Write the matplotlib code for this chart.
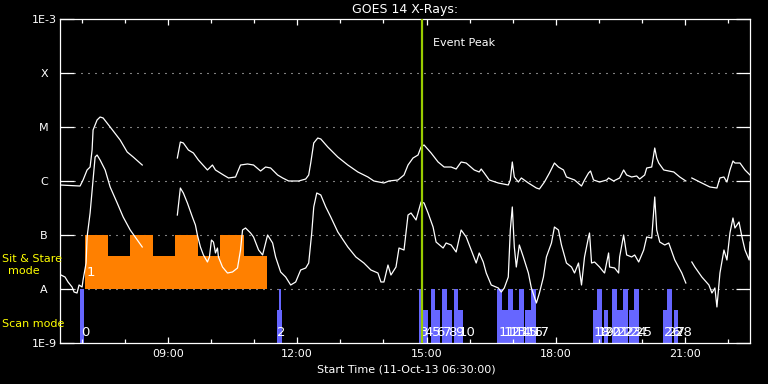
import matplotlib

matplotlib.use("Agg")
import matplotlib.pyplot as plt
import matplotlib.transforms as mtransforms
import numpy as np
from matplotlib.ticker import FixedFormatter, FixedLocator, NullLocator

nan = np.nan

# GOES 14 long channel (1-8 A), time in decimal hours UT, log10 flux in W/m^2
long_hours = [
    6.500, 6.965, 7.035, 7.128, 7.198, 7.244, 7.267, 7.360,
    7.430, 7.500, 7.663, 7.895, 8.058, 8.198, 8.407, nan,
    9.221, 9.291, 9.360, 9.477, 9.593, 9.709, 9.919, 10.035,
    10.105, 10.291, 10.407, 10.570, 10.686, 10.849, 10.988, 11.151,
    11.267, 11.384, 11.547, 11.663, 11.802, 12.035, 12.198, 12.267,
    12.314, 12.384, 12.477, 12.547, 12.709, 12.942, 13.174, 13.407,
    13.640, 13.779, 14.012, 14.128, 14.337, 14.477, 14.570, 14.686,
    14.802, 14.872, 14.942, 15.105, 15.267, 15.407, 15.570, 15.686,
    15.802, 15.919, 16.105, 16.221, 16.267, 16.337, 16.453, 16.663,
    16.895, 16.942, 16.988, 17.035, 17.128, 17.198, 17.361, 17.547,
    17.617, 17.733, 17.849, 17.965, 18.058, 18.175, 18.244, 18.431,
    18.593, 18.663, 18.756, 18.802, 18.872, 19.012, 19.179, 19.221,
    19.337, 19.477, 19.570, 19.640, 19.756, 19.872, 19.942, 20.058,
    20.105, 20.221, 20.291, 20.337, 20.384, 20.500, 20.733, 20.872,
    21.012, nan, 21.151, 21.337, 21.570, 21.733, 21.802, 21.895,
    21.965, 22.035, 22.105, 22.151, 22.268, 22.384, 22.500,
]
long_logflux = [
    -6.074, -6.093, -5.981, -5.796, -5.741, -5.426, -5.056, -4.870,
    -4.815, -4.833, -5.000, -5.241, -5.463, -5.556, -5.704, nan,
    -5.574, -5.278, -5.296, -5.426, -5.481, -5.611, -5.796, -5.704,
    -5.796, -5.889, -5.944, -5.926, -5.704, -5.685, -5.704, -5.815,
    -5.741, -5.759, -5.889, -5.944, -6.000, -6.000, -5.963, -5.889,
    -5.667, -5.296, -5.204, -5.222, -5.370, -5.556, -5.704, -5.833,
    -5.926, -6.000, -6.037, -6.000, -5.981, -5.889, -5.704, -5.574,
    -5.519, -5.370, -5.333, -5.481, -5.648, -5.741, -5.741, -5.778,
    -5.648, -5.667, -5.796, -5.833, -5.778, -5.852, -5.981, -6.037,
    -6.074, -5.981, -5.648, -5.926, -6.019, -5.944, -6.037, -6.130,
    -6.148, -6.019, -5.852, -5.667, -5.741, -5.796, -5.926, -5.981,
    -6.093, -5.981, -5.852, -5.815, -5.981, -6.019, -5.981, -5.944,
    -6.000, -5.944, -5.796, -5.889, -5.926, -5.907, -5.963, -5.889,
    -5.759, -5.741, -5.389, -5.574, -5.667, -5.796, -5.833, -5.926,
    -6.000, nan, -5.944, -6.019, -6.111, -6.130, -5.944, -5.926,
    -6.019, -5.796, -5.630, -5.667, -5.667, -5.796, -5.889,
]

# GOES 14 short channel (0.5-4 A)
short_hours = [
    6.523, 6.616, 6.686, 6.779, 6.826, 6.895, 6.942, 7.012,
    7.035, 7.105, 7.128, 7.198, 7.267, 7.314, 7.360, 7.430,
    7.547, 7.663, 7.826, 7.965, 8.128, 8.291, 8.407, nan,
    9.221, 9.291, 9.360, 9.454, 9.570, 9.640, 9.686, 9.756,
    9.826, 9.919, 9.965, 10.012, 10.058, 10.081, 10.105, 10.151,
    10.174, 10.268, 10.384, 10.500, 10.616, 10.686, 10.733, 10.802,
    10.919, 10.988, 11.105, 11.198, 11.267, 11.314, 11.430, 11.500,
    11.616, 11.733, 11.849, 11.965, 12.081, 12.198, 12.267, 12.337,
    12.384, 12.454, 12.547, 12.663, 12.779, 12.942, 13.174, 13.361,
    13.547, 13.709, 13.872, 13.942, 14.012, 14.105, 14.174, 14.291,
    14.361, 14.477, 14.570, 14.640, 14.756, 14.872, 14.942, 15.035,
    15.151, 15.221, 15.384, 15.454, 15.570, 15.686, 15.802, 15.919,
    16.035, 16.151, 16.221, 16.314, 16.384, 16.500, 16.663, 16.733,
    16.802, 16.895, 16.942, 16.988, 17.035, 17.081, 17.151, 17.244,
    17.361, 17.430, 17.547, 17.617, 17.710, 17.779, 17.896, 17.965,
    18.058, 18.128, 18.244, 18.361, 18.431, 18.523, 18.593, 18.663,
    18.756, 18.779, 18.826, 18.896, 19.012, 19.105, 19.128, 19.221,
    19.244, 19.361, 19.454, 19.477, 19.570, 19.640, 19.756, 19.826,
    19.919, 20.035, 20.105, 20.221, 20.291, 20.337, 20.407, 20.523,
    20.616, 20.756, 20.919, 21.012, nan, 21.151, 21.221, 21.384,
    21.547, 21.617, 21.686, 21.733, 21.803, 21.896, 21.965, 22.035,
    22.105, 22.151, 22.245, 22.314, 22.384, 22.481, 22.500,
]
short_logflux = [
    -7.741, -7.778, -7.870, -7.963, -8.056, -8.074, -7.926, -7.963,
    -7.833, -7.519, -7.037, -6.593, -5.981, -5.556, -5.519, -5.611,
    -5.796, -6.111, -6.407, -6.667, -6.907, -7.093, -7.222, nan,
    -6.630, -6.130, -6.222, -6.407, -6.667, -6.815, -7.000, -7.222,
    -7.370, -7.500, -7.407, -7.093, -7.130, -7.222, -7.333, -7.241,
    -7.407, -7.593, -7.704, -7.685, -7.611, -7.278, -6.907, -6.870,
    -6.963, -7.037, -7.278, -7.370, -7.148, -7.000, -7.148, -7.407,
    -7.685, -7.778, -7.926, -7.870, -7.648, -7.611, -7.519, -6.963,
    -6.481, -6.222, -6.259, -6.481, -6.667, -6.944, -7.222, -7.407,
    -7.519, -7.648, -7.704, -7.870, -7.870, -7.556, -7.741, -7.593,
    -7.241, -7.278, -6.630, -6.593, -6.722, -6.389, -6.407, -6.593,
    -6.852, -7.130, -7.241, -7.148, -7.185, -7.315, -6.907, -7.037,
    -7.278, -7.519, -7.333, -7.500, -7.704, -7.926, -7.981, -8.056,
    -7.981, -7.778, -6.907, -6.481, -7.222, -7.593, -7.185, -7.407,
    -7.704, -7.981, -8.259, -8.074, -7.778, -7.407, -7.148, -6.852,
    -6.907, -7.185, -7.519, -7.593, -7.704, -7.519, -7.926, -7.407,
    -7.037, -6.963, -7.519, -7.500, -7.593, -7.685, -7.704, -7.333,
    -7.593, -7.611, -7.704, -7.407, -7.000, -7.370, -7.407, -7.370,
    -7.500, -7.278, -7.037, -7.056, -6.296, -6.907, -7.130, -7.185,
    -7.148, -7.463, -7.704, -7.889, nan, -7.500, -7.593, -7.778,
    -7.926, -8.074, -7.981, -8.333, -7.704, -7.278, -7.463, -6.963,
    -6.685, -6.870, -6.759, -7.037, -7.278, -7.463, -7.130,
]

# IRIS sit & stare observation (number 1)
sit_start = [7.081, 7.616, 8.128, 8.663, 9.174, 9.709, 10.221, 10.756]
sit_end = [7.616, 8.128, 8.663, 9.174, 9.709, 10.221, 10.756, 11.291]
sit_logtop = [-7.0, -7.383, -7.0, -7.383, -7.0, -7.383, -7.0, -7.383]

# IRIS scan observations
scan_label = ["0", "2", "", "3", "4", "5", "6", "7", "8", "9", "10",
              "11", "12", "13", "14", "15", "16", "17",
              "18", "19", "20", "21", "22", "23", "24", "25",
              "26", "27", "28"]
scan_start = [6.965, 11.523, 11.570, 14.826, 14.919, 15.105, 15.198, 15.360, 15.477, 15.640, 15.733,
              16.640, 16.756, 16.895, 17.012, 17.151, 17.291, 17.430,
              18.849, 18.942, 19.105, 19.291, 19.407, 19.547, 19.686, 19.803,
              20.477, 20.570, 20.733]
scan_end = [7.058, 11.640, 11.616, 14.919, 15.035, 15.198, 15.314, 15.477, 15.593, 15.733, 15.849,
            16.756, 16.895, 17.012, 17.151, 17.268, 17.430, 17.547,
            18.942, 19.058, 19.198, 19.407, 19.547, 19.663, 19.803, 19.919,
            20.570, 20.686, 20.826]
scan_logtop = [-8.0, -8.389, -8.0, -8.0, -8.389, -8.0, -8.389, -8.0, -8.389, -8.0, -8.389,
               -8.0, -8.389, -8.0, -8.389, -8.0, -8.389, -8.0,
               -8.389, -8.0, -8.389, -8.0, -8.389, -8.0, -8.389, -8.0,
               -8.389, -8.0, -8.389]

event_peak = 14.895

y_levels = [1e-9, 1e-8, 1e-7, 1e-6, 1e-5, 1e-4, 1e-3]
y_labels = ["1E-9", "A", "B", "C", "M", "X", "1E-3"]
x_major = [9, 12, 15, 18, 21]
x_labels = ["09:00", "12:00", "15:00", "18:00", "21:00"]
x_minor = list(range(7, 23))


def main() -> None:
    fig = plt.figure(figsize=(7.68, 3.84), dpi=100, facecolor="black")
    ax = fig.add_axes([60 / 768, 41 / 384, 690 / 768, 324 / 384])
    ax.set_facecolor("black")
    ax.set_yscale("log")
    ax.set_xlim(6.5, 22.5)
    ax.set_ylim(1e-9, 1e-3)

    for spine in ax.spines.values():
        spine.set_color("white")
        spine.set_linewidth(0.9)

    for level in y_levels[1:-1]:
        ax.axhline(level, color="white", lw=0.8, ls=(0, (0.9, 5.4)), zorder=0.5)

    ax.yaxis.set_major_locator(FixedLocator(y_levels))
    ax.yaxis.set_major_formatter(FixedFormatter(y_labels))
    ax.yaxis.set_minor_locator(NullLocator())
    # labels are centred in the left margin, like the IDL original
    ax.tick_params(axis="y", which="major", direction="in", length=10, width=0.9,
                   left=True, right=True, colors="white", labelsize=8, pad=11.5)
    for label in ax.get_yticklabels():
        label.set_horizontalalignment("center")

    ax.xaxis.set_major_locator(FixedLocator(x_major))
    ax.xaxis.set_major_formatter(FixedFormatter(x_labels))
    ax.xaxis.set_minor_locator(FixedLocator(x_minor))
    ax.tick_params(axis="x", which="major", direction="in", length=4.5, width=0.9,
                   top=True, bottom=True, colors="white", labelsize=8, pad=4.5)
    ax.tick_params(axis="x", which="minor", direction="in", length=2.9, width=0.9,
                   top=True, bottom=True, colors="white")

    # observation blocks
    sit_top = 10 ** np.array(sit_logtop)
    ax.bar(sit_start, sit_top - 1e-8, width=np.subtract(sit_end, sit_start), bottom=1e-8,
           align="edge", color="#ff8000", linewidth=0, zorder=1)
    scan_top = 10 ** np.array(scan_logtop)
    ax.bar(scan_start, scan_top - 1e-9, width=np.subtract(scan_end, scan_start), bottom=1e-9,
           align="edge", color="#6666ff", linewidth=0, zorder=1)

    label_tf = mtransforms.blended_transform_factory(ax.transData, ax.transAxes)
    ax.text(sit_start[0] + 0.03, 0.219, "1", transform=label_tf, color="white",
            fontsize=9.5, ha="left", va="center", zorder=4)
    for start, label in zip(scan_start, scan_label):
        if label:
            ax.text(start + 0.02, 0.031, label, transform=label_tf, color="white",
                    fontsize=9.5, ha="left", va="center", zorder=4)

    ax.plot(long_hours, 10 ** np.array(long_logflux), color="white", lw=0.9, zorder=3)
    ax.plot(short_hours, 10 ** np.array(short_logflux), color="white", lw=0.9, zorder=3)

    ax.axvline(event_peak, color="#99cc00", lw=1.6, zorder=5)
    ax.annotate("Event Peak", xy=(event_peak, 1), xycoords=("data", "axes fraction"),
                xytext=(8, -17), textcoords="offset points", color="white",
                fontsize=8, ha="left", va="center")

    fig.text(405 / 768, 1 - 9.5 / 384, "GOES 14 X-Rays:", color="white",
             fontsize=9, ha="center", va="center")
    fig.text(406 / 768, 1 - 370 / 384, "Start Time (11-Oct-13 06:30:00)", color="white",
             fontsize=8, ha="center", va="center")
    fig.text(2 / 768, 1 - 259 / 384, "Sit & Stare", color="#ffff00",
             fontsize=8, ha="left", va="center")
    fig.text(24 / 768, 1 - 271 / 384, "mode", color="#ffff00",
             fontsize=8, ha="center", va="center")
    fig.text(2 / 768, 1 - 324 / 384, "Scan mode", color="#ffff00",
             fontsize=8, ha="left", va="center")

    fig.savefig("out.png", dpi=100, facecolor="black")
    plt.close(fig)


if __name__ == "__main__":
    main()
